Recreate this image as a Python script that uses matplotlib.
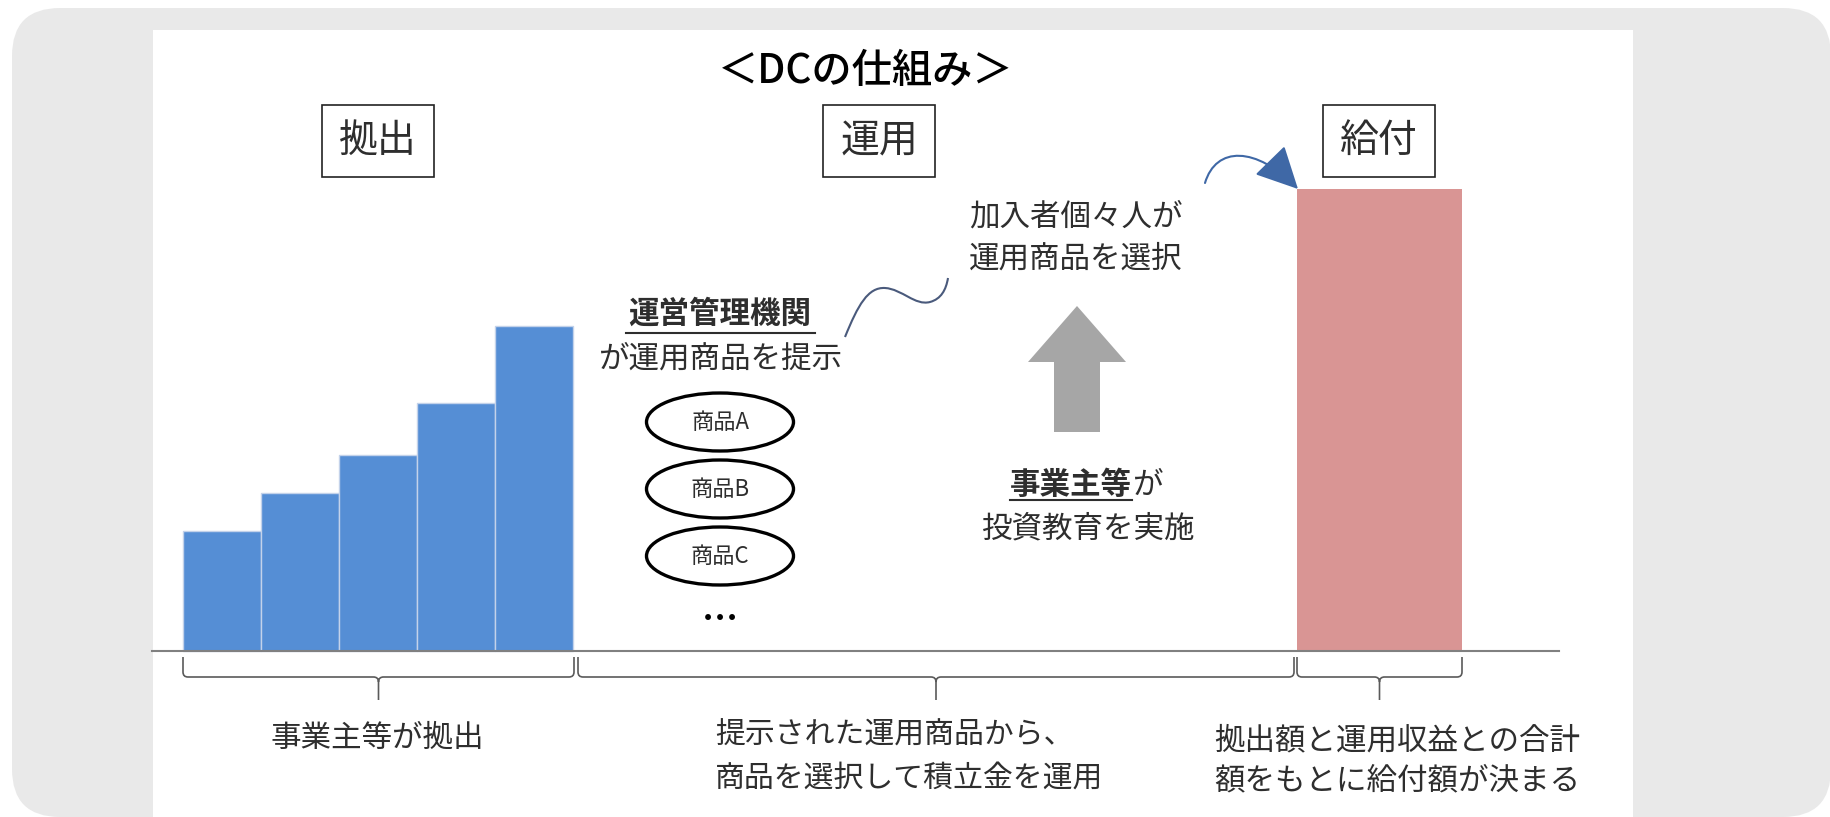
import matplotlib
matplotlib.use("Agg")
import matplotlib.pyplot as plt
from matplotlib.patches import FancyBboxPatch, Rectangle, Ellipse, FancyArrowPatch, FancyArrow, PathPatch
from matplotlib.path import Path

plt.rcParams['font.family'] = ['Noto Sans CJK JP', 'DejaVu Sans']

# data
contrib_values = [120, 158, 196, 248, 325]     # yearly contributions (bar heights)
benefit_values = [462]                          # total at payout
products = ['商品A', '商品B', '商品C']
stage_labels = ['拠出', '運用', '給付']
bottom_notes = ['事業主等が拠出',
                '提示された運用商品から、\n商品を選択して積立金を運用',
                '拠出額と運用収益との合計\n額をもとに給付額が決まる']

W, H = 1831, 817
BASE = 651          # pixel row of the baseline


def Y(row):
    return BASE - row


TXT = '#2e2e2e'
fig = plt.figure(figsize=(W / 100, H / 100), dpi=100)
ax = fig.add_axes([0, 0, 1, 1])
ax.set_xlim(0, W)
ax.set_ylim(Y(H), Y(0))
ax.axis('off')

# frame: grey rounded card + white picture
ax.add_patch(FancyBboxPatch((12, Y(817)), 1819, 809,
                            boxstyle='round,pad=0,rounding_size=48',
                            fc='#e9e9e9', ec='none', zorder=0))
ax.add_patch(Rectangle((153, Y(817)), 1480, 787, fc='white', ec='none', zorder=0.5))

# bars
bar_left = [183 + 78 * i for i in range(len(contrib_values))]
ax.bar(bar_left, contrib_values, width=78, align='edge', color='#558ED5',
       edgecolor='#c3d2ea', linewidth=1, zorder=2)
ax.bar([1297], benefit_values, width=165, align='edge', color='#D99594',
       edgecolor='none', zorder=2)

# baseline
ax.plot([152, 1559], [0, 0], color='#808080', lw=1.5, zorder=3)

# title
ax.text(866, Y(71), '＜DCの仕組み＞', ha='center', va='center', fontsize=29,
        fontweight='medium', color='black')

# stage boxes
for lab, bx in zip(stage_labels, [322, 823, 1323]):
    ax.add_patch(Rectangle((bx, Y(177)), 112, 72, fc='white', ec='#222222', lw=1.2, zorder=3))
    ax.text(bx + 56, Y(141), lab, ha='center', va='center', fontsize=28, color=TXT, zorder=4)

# provider text
ax.text(720, Y(314), '運営管理機関', ha='center', va='center', fontsize=22,
        fontweight='bold', color=TXT)
ax.plot([626, 815], [Y(333), Y(333)], color=TXT, lw=1.5)
ax.text(720, Y(359), 'が運用商品を提示', ha='center', va='center', fontsize=22, color=TXT)

# product ellipses
for i, p in enumerate(products):
    cy = 422 + 67 * i
    ax.add_patch(Ellipse((720, Y(cy)), 147, 58, fc='white', ec='black', lw=2.4, zorder=3))
    ax.text(720, Y(cy), p, ha='center', va='center', fontsize=16, color=TXT, zorder=4)
ax.text(720, Y(621), '…', ha='center', va='center', fontsize=26, fontweight='bold', color='black')

# member text
ax.text(969, Y(238), '加入者個々人が\n運用商品を選択', ha='left', va='center', fontsize=22,
        color=TXT, linespacing=1.45)

# wavy connector
verts = [(845, 337), (858, 305), (868, 287), (885, 288),
         (902, 289), (915, 306), (930, 302),
         (941, 299), (946, 290), (948, 278)]
codes = [Path.MOVETO] + [Path.CURVE4] * 9
ax.add_patch(PathPatch(Path([(x, Y(y)) for x, y in verts], codes),
                       fc='none', ec='#4a5a7c', lw=1.5, zorder=3))

# grey up arrow
ax.add_patch(FancyArrow(1077, Y(432), 0, 126, width=46, head_width=98, head_length=56,
                        length_includes_head=True, fc='#a6a6a6', ec='none', zorder=3))

# employer text
t1 = ax.text(1132, Y(485), '事業主等', ha='right', va='center', fontsize=22,
             fontweight='bold', color=TXT)
ax.text(1132, Y(485), 'が', ha='left', va='center', fontsize=22, color=TXT)
ax.text(1088, Y(529), '投資教育を実施', ha='center', va='center', fontsize=22, color=TXT)
fig.canvas.draw()
bb = t1.get_window_extent()
x0, x1 = bb.x0 * W / fig.bbox.width, bb.x1 * W / fig.bbox.width
ax.plot([x0, x1], [Y(500), Y(500)], color=TXT, lw=1.5)

# curved arrow into the payout bar
arc = Path([(1205, Y(183)), (1216, Y(146)), (1256, Y(146)), (1298, Y(189))],
           [Path.MOVETO, Path.CURVE4, Path.CURVE4, Path.CURVE4])
ax.add_patch(FancyArrowPatch(path=arc,
                             arrowstyle='-|>,head_length=1.2,head_width=0.6',
                             mutation_scale=22, color='#3f68a6', lw=1.5, zorder=4))

# brackets under the baseline
def bracket(xa, xb):
    r = 5
    xm = (xa + xb) / 2
    pts = [(xa, 657), (xa, 677 - r), (xa, 677), (xa + r, 677),
           (xm - r, 677), (xm, 677), (xm, 677 + r), (xm, 700),
           (xm, 677 + r), (xm, 677), (xm + r, 677),
           (xb - r, 677), (xb, 677), (xb, 677 - r), (xb, 657)]
    cds = [Path.MOVETO, Path.LINETO, Path.CURVE3, Path.CURVE3,
           Path.LINETO, Path.CURVE3, Path.CURVE3, Path.LINETO,
           Path.MOVETO, Path.CURVE3, Path.CURVE3,
           Path.LINETO, Path.CURVE3, Path.CURVE3, Path.LINETO]
    ax.add_patch(PathPatch(Path([(x, Y(y)) for x, y in pts], cds),
                           fc='none', ec='#5a5a5a', lw=1.2, zorder=3))


bracket(183, 574)
bracket(578, 1294)
bracket(1297, 1462)

# notes under brackets
ax.text(377, Y(738), bottom_notes[0], ha='center', va='center', fontsize=22, color=TXT)
ax.text(715, Y(757), bottom_notes[1], ha='left', va='center', fontsize=21.5,
        color=TXT, linespacing=1.5)
ax.text(1214, Y(761), bottom_notes[2], ha='left', va='center', fontsize=22,
        color=TXT, linespacing=1.4)

fig.savefig('out.png', dpi=100)
